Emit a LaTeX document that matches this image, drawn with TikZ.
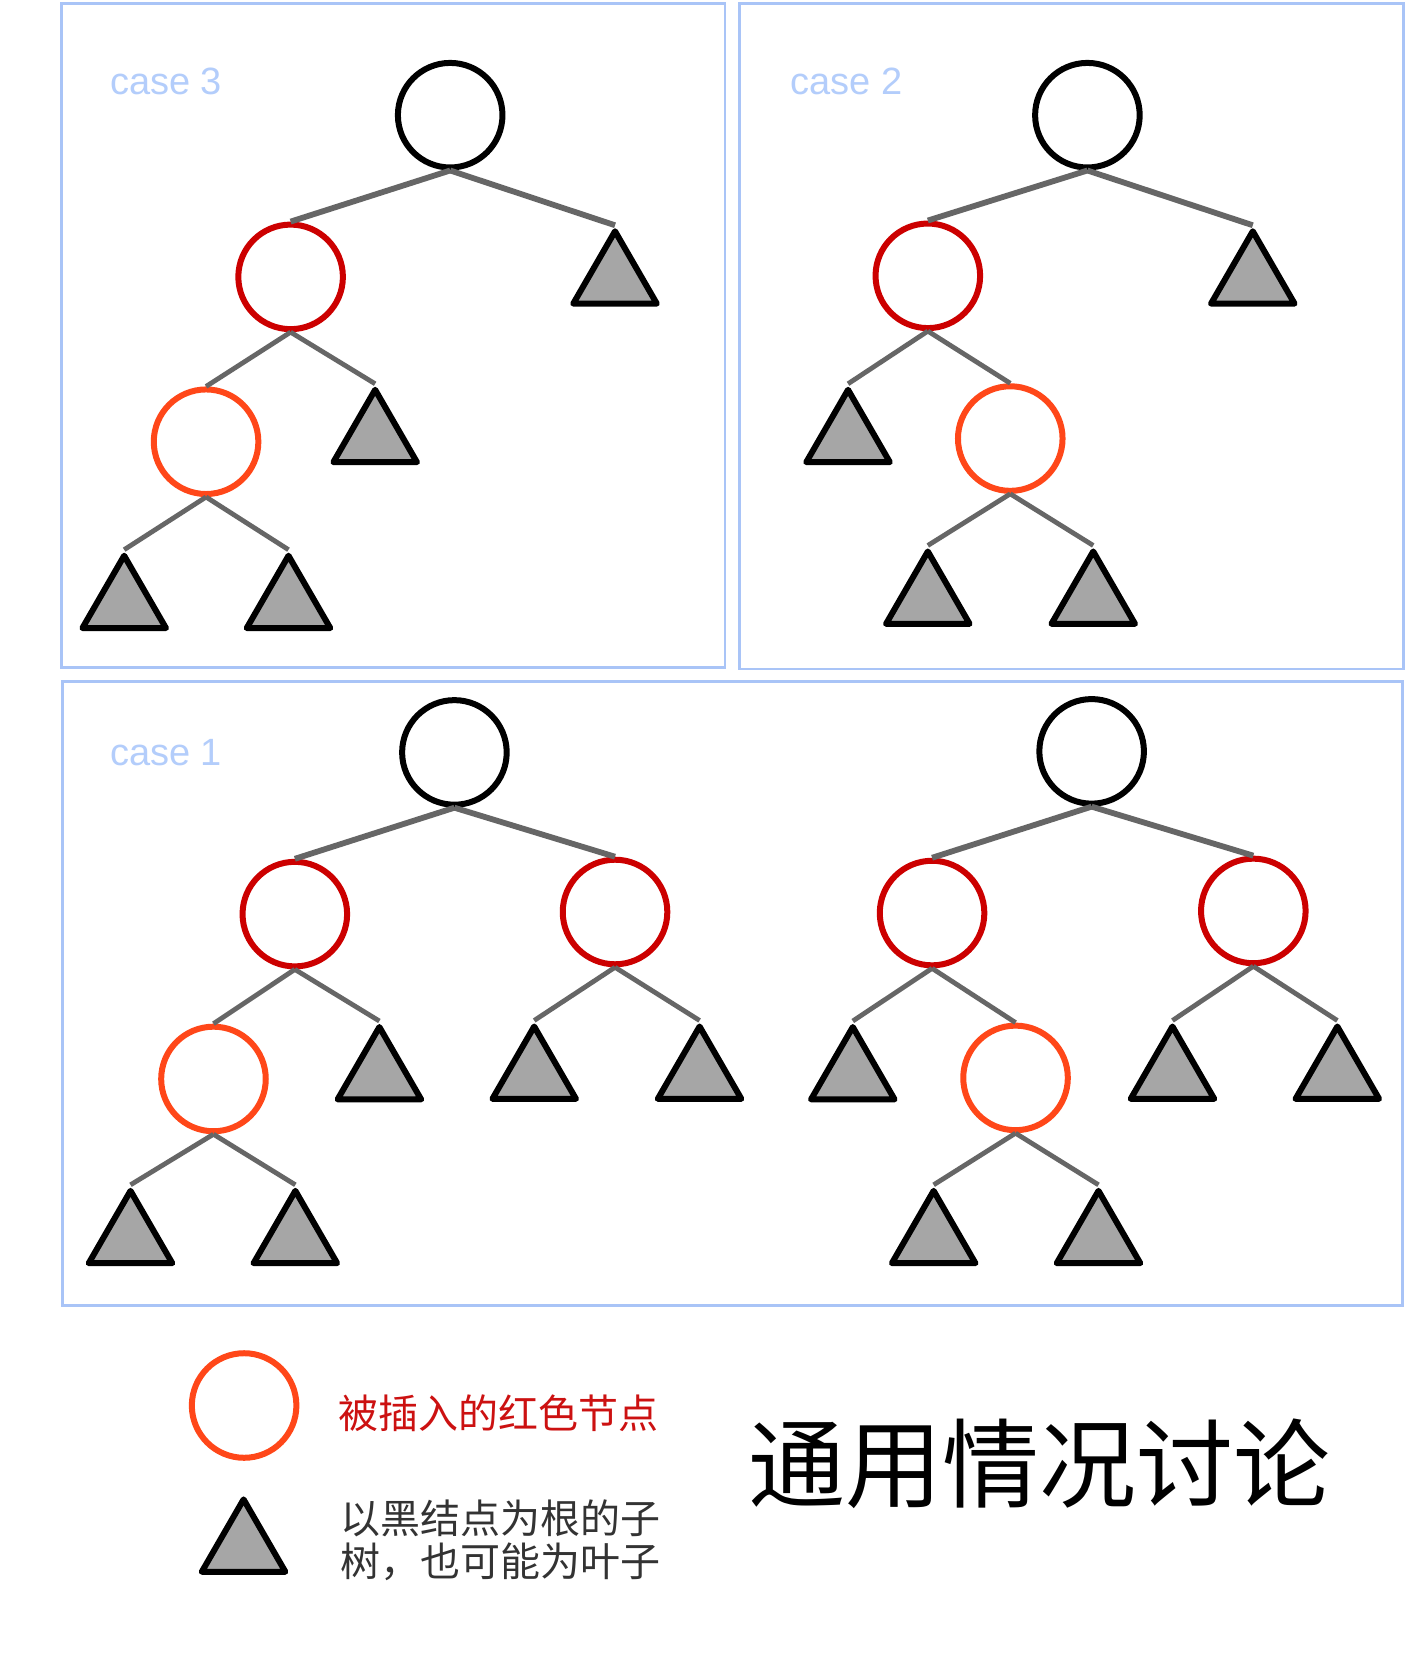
\documentclass[tikz,border=0pt]{standalone}
\usepackage{fontspec}
\setmainfont{Liberation Sans}
\newfontfamily\cjk{Noto Sans CJK SC}
\usetikzlibrary{shapes.geometric}
\definecolor{boxblue}{HTML}{A9C4F7}
\definecolor{labblue}{HTML}{B3CDFB}
\definecolor{edgegray}{HTML}{666666}
\definecolor{trigray}{HTML}{A6A6A6}
\definecolor{nodered}{HTML}{CC0000}
\definecolor{nodeorange}{HTML}{FF4719}
\definecolor{legred}{HTML}{CC1111}
\definecolor{legtext}{HTML}{333333}
\tikzset{
  rbnode/.style={circle,draw,line width=6pt,minimum size=104.6pt,inner sep=0pt,fill=white},
  blacknode/.style={rbnode,draw=black},
  rednode/.style={rbnode,draw=nodered},
  insnode/.style={rbnode,draw=nodeorange},
  subtree/.style={regular polygon,regular polygon sides=3,draw=black,fill=trigray,
    line width=6pt,line join=round,minimum size=96.5pt,inner sep=0pt},
  topedge/.style={draw=edgegray,line width=5.8pt},
  lowedge/.style={draw=edgegray,line width=4.8pt},
  casebox/.style={draw=boxblue,line width=2.8pt},
  caselabel/.style={text=labblue,font=\fontsize{38}{40}\selectfont,anchor=west,inner sep=0pt}
}
\begin{document}
\begin{tikzpicture}[x=1.05706pt,y=-1.05706pt]
\useasboundingbox (0,0) rectangle (1332,1568);
\fill[white] (0,0) rectangle (1332,1568);

% boxes
\draw[casebox] (58,3) rectangle (686,632);
\draw[casebox] (700,3) rectangle (1328,633);
\draw[casebox] (59,645) rectangle (1327,1235);
\node[caselabel] (lab3) at (104,77) {case 3};
\node[caselabel] (lab2) at (748,77) {case 2};
\node[caselabel] (lab1) at (104,712) {case 1};

% ---------- case 3 ----------
\node[blacknode] (R3) at (426,109) {};
\node[rednode] (A3) at (275,262) {};
\node[insnode] (B3) at (195,418) {};
\node[subtree] (T3a) at (582,264.5) {};
\node[subtree] (T3b) at (355,414.5) {};
\node[subtree] (T3c) at (117.5,571.5) {};
\node[subtree] (T3d) at (273,571.5) {};
\draw[topedge] (R3.south) -- (A3.north);
\draw[topedge] (R3.south) -- (T3a.north);
\draw[lowedge] (A3.south) -- (B3.north);
\draw[lowedge] (A3.south) -- (T3b.north);
\draw[lowedge] (B3.south) -- (T3c.north);
\draw[lowedge] (B3.south) -- (T3d.north);

% ---------- case 2 ----------
\node[blacknode] (R2) at (1029,109) {};
\node[rednode] (A2) at (878,261) {};
\node[insnode] (B2) at (956,415) {};
\node[subtree] (T2a) at (1185.5,264.5) {};
\node[subtree] (T2b) at (802.5,414.5) {};
\node[subtree] (T2c) at (878,567.5) {};
\node[subtree] (T2d) at (1034.5,567.5) {};
\draw[topedge] (R2.south) -- (A2.north);
\draw[topedge] (R2.south) -- (T2a.north);
\draw[lowedge] (A2.south) -- (T2b.north);
\draw[lowedge] (A2.south) -- (B2.north);
\draw[lowedge] (B2.south) -- (T2c.north);
\draw[lowedge] (B2.south) -- (T2d.north);

% ---------- case 1 left ----------
\node[blacknode] (R1) at (430,712) {};
\node[rednode] (A1) at (279,865) {};
\node[rednode] (C1) at (582,863) {};
\node[insnode] (B1) at (202,1021) {};
\node[subtree] (T1a) at (359,1017.5) {};
\node[subtree] (T1b) at (505.5,1017) {};
\node[subtree] (T1c) at (662,1017) {};
\node[subtree] (T1d) at (123.5,1172.5) {};
\node[subtree] (T1e) at (279.5,1172.5) {};
\draw[topedge] (R1.south) -- (A1.north);
\draw[topedge] (R1.south) -- (C1.north);
\draw[lowedge] (A1.south) -- (B1.north);
\draw[lowedge] (A1.south) -- (T1a.north);
\draw[lowedge] (C1.south) -- (T1b.north);
\draw[lowedge] (C1.south) -- (T1c.north);
\draw[lowedge] (B1.south) -- (T1d.north);
\draw[lowedge] (B1.south) -- (T1e.north);

% ---------- case 1 right ----------
\node[blacknode] (R1r) at (1033,711) {};
\node[rednode] (A1r) at (882,864) {};
\node[rednode] (C1r) at (1186,862) {};
\node[insnode] (B1r) at (961,1020) {};
\node[subtree] (T1f) at (807,1017.5) {};
\node[subtree] (T1g) at (1109.5,1017) {};
\node[subtree] (T1h) at (1265.5,1017) {};
\node[subtree] (T1i) at (883.5,1172.5) {};
\node[subtree] (T1j) at (1039.5,1172.5) {};
\draw[topedge] (R1r.south) -- (A1r.north);
\draw[topedge] (R1r.south) -- (C1r.north);
\draw[lowedge] (A1r.south) -- (T1f.north);
\draw[lowedge] (A1r.south) -- (B1r.north);
\draw[lowedge] (C1r.south) -- (T1g.north);
\draw[lowedge] (C1r.south) -- (T1h.north);
\draw[lowedge] (B1r.south) -- (T1i.north);
\draw[lowedge] (B1r.south) -- (T1j.north);

% ---------- legend ----------
\node[insnode] (legC) at (231,1330) {};
\node[subtree] (legT) at (230.5,1464.5) {};
\node[anchor=west,inner sep=0pt,text=legred,font=\cjk\fontsize{40}{43}\selectfont] (legCtext) at (320,1337) {被插入的红色节点};
\node[anchor=west,inner sep=0pt,text=legtext,align=left,font=\cjk\fontsize{40}{43.4}\selectfont] (legTtext) at (322,1457.5) {以黑结点为根的子\\树，也可能为叶子};
\node[inner sep=0pt,text=black,font=\cjk\fontsize{97}{100}\selectfont] (title) at (984,1385) {通用情况讨论};
\end{tikzpicture}
\end{document}
